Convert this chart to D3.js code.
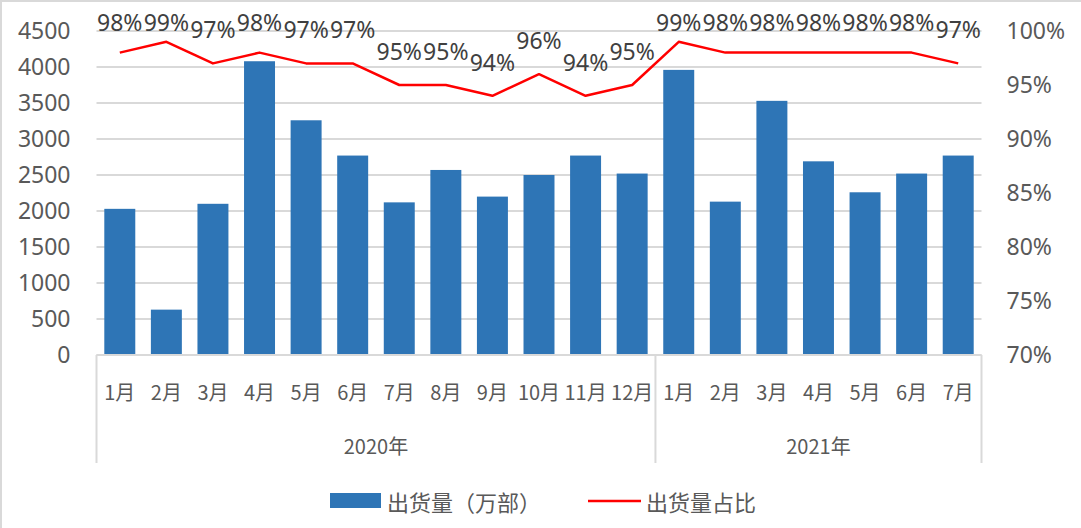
<!DOCTYPE html>
<html>
<head>
<meta charset="utf-8">
<script src="https://cdn.jsdelivr.net/npm/d3@7"></script>
<style>
  html, body { margin: 0; padding: 0; background: #fff; }
  svg { display: block; }
  text { font-family: "Noto Sans", "Noto Sans CJK SC", sans-serif; fill: #595959; }
</style>
</head>
<body>
<svg id="chart" width="1081" height="528"></svg>
<script>
// ---- data ----
const years = ["2020年", "2021年"];
const months2020 = ["1月","2月","3月","4月","5月","6月","7月","8月","9月","10月","11月","12月"];
const months2021 = ["1月","2月","3月","4月","5月","6月","7月"];
const shipments = [2030, 630, 2100, 4080, 3260, 2770, 2120, 2570, 2200, 2500, 2770, 2520,
                   3960, 2130, 3530, 2690, 2260, 2520, 2770];
const share = [98, 99, 97, 98, 97, 97, 95, 95, 94, 96, 94, 95,
               99, 98, 98, 98, 98, 98, 97];
const leftTicks = [0, 500, 1000, 1500, 2000, 2500, 3000, 3500, 4000, 4500];
const rightTicks = [70, 75, 80, 85, 90, 95, 100];
const seriesNames = ["出货量（万部）", "出货量占比"];

// ---- build categories ----
const cats = [];
months2020.forEach(m => cats.push({year: years[0], month: m}));
months2021.forEach(m => cats.push({year: years[1], month: m}));
cats.forEach((c, i) => { c.key = i; c.value = shipments[i]; c.pct = share[i]; });

const svg = d3.select("#chart");
const W = 1081, H = 528;
const plotL = 96.5, plotR = 981.5, plotT = 31, plotB = 355;
const cjk = '"Noto Sans CJK SC", "Noto Sans", sans-serif';

// border (top & left)
svg.append("path").attr("d", `M1,${H} L1,1 L${W},1`)
  .attr("fill", "none").attr("stroke", "#d9d9d9").attr("stroke-width", 2);

const x = d3.scaleBand().domain(cats.map(c => c.key)).range([plotL, plotR])
  .paddingInner(0.335).paddingOuter(0.1675);
const xOuter = d3.scaleBand().domain(cats.map(c => c.key)).range([plotL, plotR]);
const yL = d3.scaleLinear().domain([0, 4500]).range([plotB, plotT]);
const yR = d3.scaleLinear().domain([70, 100]).range([plotB, plotT]);

// gridlines
svg.append("g").selectAll("line").data(leftTicks).join("line")
  .attr("x1", plotL).attr("x2", plotR)
  .attr("y1", d => yL(d)).attr("y2", d => yL(d))
  .attr("stroke", "#d9d9d9").attr("stroke-width", 2);

// left axis
const gL = svg.append("g").attr("transform", `translate(${plotL},0)`)
  .call(d3.axisLeft(yL).tickValues(leftTicks).tickSize(0).tickPadding(26).tickFormat(d3.format("d")));
gL.select(".domain").remove();
gL.selectAll("text").style("font-size", "23px").style("fill", "#595959")
  .style("font-family", '"Noto Sans", sans-serif');

// right axis
const gR = svg.append("g").attr("transform", `translate(${plotR},0)`)
  .call(d3.axisRight(yR).tickValues(rightTicks).tickSize(0).tickPadding(25).tickFormat(d => d + "%"));
gR.select(".domain").remove();
gR.selectAll("text").style("font-size", "23px").style("fill", "#595959")
  .style("font-family", '"Noto Sans", sans-serif');

// bars
svg.append("g").selectAll("rect").data(cats).join("rect")
  .attr("x", d => x(d.key)).attr("width", x.bandwidth())
  .attr("y", d => yL(d.value)).attr("height", d => plotB - yL(d.value))
  .attr("fill", "#2E75B6");

// category axis
const gx = svg.append("g");
gx.append("line").attr("x1", plotL).attr("x2", plotR).attr("y1", plotB).attr("y2", plotB)
  .attr("stroke", "#d9d9d9").attr("stroke-width", 2);
gx.selectAll("text.m").data(cats).join("text").attr("class", "m")
  .attr("x", d => xOuter(d.key) + xOuter.bandwidth() / 2).attr("y", 391)
  .attr("text-anchor", "middle").attr("dominant-baseline", "central")
  .style("font-size", "20px").style("font-family", cjk).text(d => d.month);
// group separators
const groupBounds = [0, months2020.length, cats.length];
gx.selectAll("line.sep").data(groupBounds).join("line").attr("class", "sep")
  .attr("x1", d => d < cats.length ? xOuter(d) : plotR)
  .attr("x2", d => d < cats.length ? xOuter(d) : plotR)
  .attr("y1", plotB).attr("y2", 463)
  .attr("stroke", "#d9d9d9").attr("stroke-width", 2);
const groups = years.map((y, i) => {
  const a = groupBounds[i], b = groupBounds[i + 1];
  const x0 = xOuter(a), x1 = b < cats.length ? xOuter(b) : plotR;
  return {year: y, cx: (x0 + x1) / 2};
});
gx.selectAll("text.y").data(groups).join("text").attr("class", "y")
  .attr("x", d => d.cx).attr("y", 445)
  .attr("text-anchor", "middle").attr("dominant-baseline", "central")
  .style("font-size", "20px").style("font-family", cjk).text(d => d.year);

// line
const line = d3.line().x(d => x(d.key) + x.bandwidth() / 2).y(d => yR(d.pct));
svg.append("path").datum(cats).attr("d", line)
  .attr("fill", "none").attr("stroke", "#FF0000").attr("stroke-width", 2.5)
  .attr("stroke-linejoin", "round");

// data labels
svg.append("g").selectAll("text").data(cats).join("text")
  .attr("x", d => x(d.key) + x.bandwidth() / 2)
  .attr("y", d => Math.max(yR(d.pct) - 25, 31))
  .attr("text-anchor", "middle")
  .style("font-size", "23px").style("fill", "#404040")
  .text(d => d.pct + "%");

// legend
const lg = svg.append("g");
lg.append("rect").attr("x", 330).attr("y", 493).attr("width", 51).attr("height", 15).attr("fill", "#2E75B6");
lg.append("text").attr("x", 387).attr("y", 501).attr("dominant-baseline", "central")
  .style("font-size", "22px").style("font-family", cjk).text(seriesNames[0]);
lg.append("line").attr("x1", 588).attr("x2", 641).attr("y1", 501).attr("y2", 501)
  .attr("stroke", "#FF0000").attr("stroke-width", 2.5);
lg.append("text").attr("x", 646).attr("y", 501).attr("dominant-baseline", "central")
  .style("font-size", "22px").style("font-family", cjk).text(seriesNames[1]);
</script>
</body>
</html>
